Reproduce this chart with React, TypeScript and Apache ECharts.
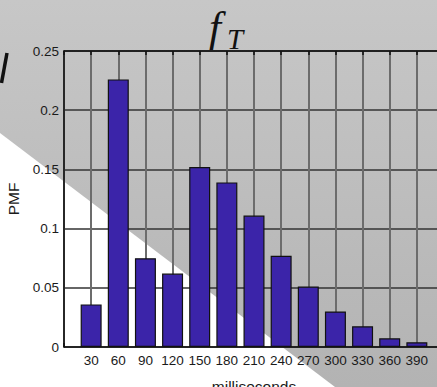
import React, { useEffect, useRef } from "react";
import * as echarts from "echarts";

const categories = [30, 60, 90, 120, 150, 180, 210, 240, 270, 300, 330, 360, 390];
const pmf = [0.036, 0.226, 0.075, 0.062, 0.152, 0.139, 0.111, 0.077, 0.051, 0.030, 0.0175, 0.0073, 0.004];
const xRange = [0, 420];
const xStep = 30;
const yTicks = [0, 0.05, 0.1, 0.15, 0.2, 0.25];

export default function App() {
  const ref = useRef<HTMLDivElement>(null);
  useEffect(() => {
    if (!ref.current) return;
    const chart = echarts.init(ref.current, undefined, { renderer: "svg" });
    const option = {
      animation: false,
      backgroundColor: new echarts.graphic.LinearGradient(0, 0, 0, 1, [
        { offset: 0, color: "#c7c7c7" },
        { offset: 1, color: "#b3b3b3" },
      ]),
      graphic: {
        elements: [
          {
            type: "polygon",
            z: -100,
            silent: true,
            shape: { points: [[0, 133], [335, 387], [0, 387]] },
            style: { fill: "#ffffff" },
          },
          {
            type: "line",
            silent: true,
            shape: { x1: 7, y1: 53, x2: 1.5, y2: 83 },
            style: { stroke: "#111", lineWidth: 3.5 },
          },
          {
            type: "text",
            silent: true,
            x: 209,
            y: 48,
            style: {
              text: "f",
              font: 'italic 43px "Liberation Serif"',
              fill: "#111",
              verticalAlign: "bottom",
            },
          },
          {
            type: "text",
            silent: true,
            x: 227,
            y: 53,
            style: {
              text: "T",
              font: 'italic 29px "Liberation Serif"',
              fill: "#111",
              verticalAlign: "bottom",
            },
          },
        ],
      },
      grid: { left: 64, top: 51, width: 380, height: 296, outerBoundsMode: "none", containLabel: false },
      xAxis: [
        {
          type: "value",
          position: "bottom",
          min: xRange[0],
          max: xRange[1],
          interval: xStep,
          axisLine: { show: true, lineStyle: { color: "#111", width: 1.5 } },
          axisTick: { show: true, inside: true, length: 4, lineStyle: { color: "#111", width: 1.5 } },
          axisLabel: {
            color: "#1a1a1a",
            fontSize: 13.5,
            fontFamily: "Liberation Sans",
            margin: 6,
            formatter: (v: number) => (categories.includes(v) ? String(v) : ""),
          },
          splitLine: { show: true, lineStyle: { color: "#6c6c6c", width: 2 } },
          name: "milliseconds",
          nameLocation: "middle",
          nameGap: 31,
          nameTextStyle: { color: "#1a1a1a", fontSize: 15.5, fontFamily: "Liberation Sans", verticalAlign: "top" },
        },
        {
          type: "value",
          position: "top",
          min: xRange[0],
          max: xRange[1],
          interval: xStep,
          axisLine: { show: true, lineStyle: { color: "#111", width: 1.5 } },
          axisTick: { show: true, inside: true, length: 4, lineStyle: { color: "#111", width: 1.5 } },
          axisLabel: { show: false },
          splitLine: { show: false },
        },
      ],
      yAxis: {
        type: "value",
        min: yTicks[0],
        max: yTicks[yTicks.length - 1],
        interval: 0.05,
        axisLine: { show: true, lineStyle: { color: "#111", width: 1.5 } },
        axisTick: { show: false },
        axisLabel: {
          color: "#1a1a1a",
          fontSize: 13.5,
          fontFamily: "Liberation Sans",
          margin: 5,
          formatter: (v: number) => String(Math.round(v * 100) / 100),
        },
        splitLine: { show: true, lineStyle: { color: "#333", width: 1.5 } },
        name: "PMF",
        nameLocation: "middle",
        nameRotate: 90,
        nameGap: 37,
        nameTextStyle: { color: "#1a1a1a", fontSize: 15.5, fontFamily: "Liberation Sans" },
      },
      series: [
        {
          type: "bar",
          xAxisIndex: 0,
          barWidth: 21,
          data: categories.map((c, i) => [c, pmf[i]]),
          itemStyle: { color: "#3b24a9", borderColor: "#111", borderWidth: 1.2 },
        },
      ],
    };
    chart.setOption(option as any);
    return () => chart.dispose();
  }, []);
  return (
    <div
      ref={ref}
      style={{ position: "fixed", left: 0, top: 0, width: 437, height: 387 }}
    />
  );
}
